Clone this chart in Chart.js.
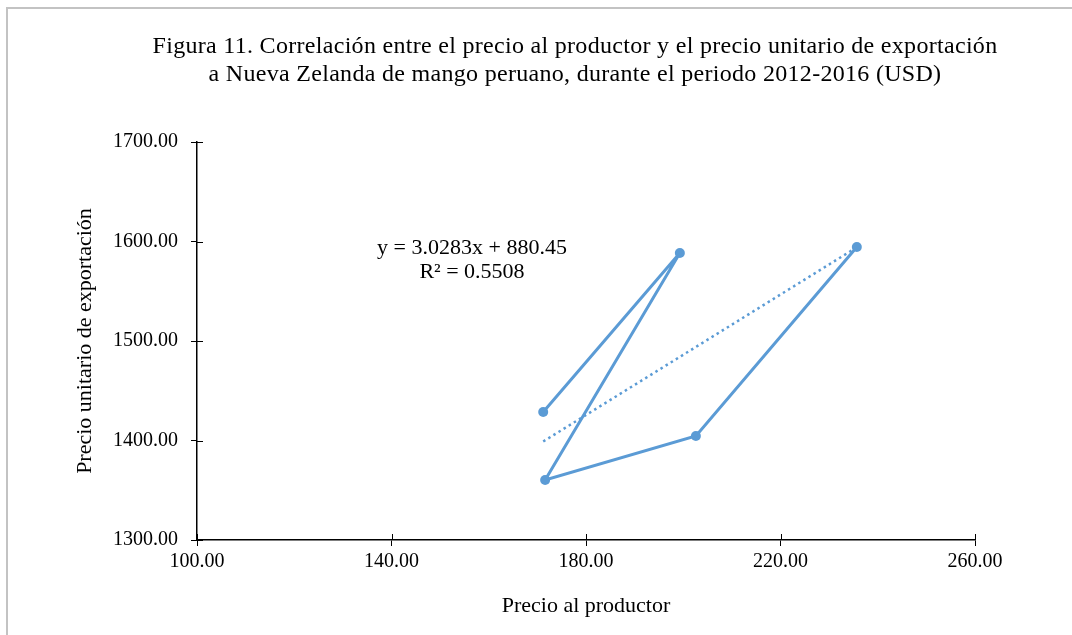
<!DOCTYPE html>
<html>
<head>
<meta charset="utf-8">
<script src="https://cdn.jsdelivr.net/npm/chart.js@4.4.0/dist/chart.umd.min.js"></script>
<style>
html,body{margin:0;padding:0;background:#fff;}
#wrap{position:relative;width:1072px;height:635px;}
</style>
</head>
<body>
<div id="wrap"><canvas id="c" width="1072" height="635"></canvas></div>
<script>
// Data
const productorPrices = [171.2, 199.3, 171.6, 202.6, 235.7];
const exportPrices    = [1428.6, 1588.4, 1360.3, 1404.5, 1594.5];
const trendX = [171.2, 235.7];
const trendY = [1399.0, 1594.2];
const xTicks = [100, 140, 180, 220, 260];
const yTicks = [1300, 1400, 1500, 1600, 1700];
const titleLines = [
  "Figura 11. Correlación entre el precio al productor y el precio unitario de exportación",
  "a Nueva Zelanda de mango peruano, durante el periodo 2012-2016 (USD)"
];
const equationLines = ["y = 3.0283x + 880.45", "R² = 0.5508"];
const xTitle = "Precio al productor";
const yTitle = "Precio unitario de exportación";

const SERIF = "'Liberation Serif', 'Times New Roman', serif";
const BLUE = "#5B9BD5";

const points = productorPrices.map((x, i) => ({x: x, y: exportPrices[i]}));
const trend = trendX.map((x, i) => ({x: x, y: trendY[i]}));

const decorPlugin = {
  id: 'decor',
  beforeDraw(chart) {
    const ctx = chart.ctx;
    ctx.save();
    ctx.fillStyle = '#fff';
    ctx.fillRect(0, 0, chart.width, chart.height);
    ctx.strokeStyle = '#c3c3c3';
    ctx.lineWidth = 2;
    ctx.beginPath();
    ctx.moveTo(7, 635);
    ctx.lineTo(7, 8);
    ctx.lineTo(1072, 8);
    ctx.stroke();
    ctx.restore();
  },
  afterDraw(chart) {
    const ctx = chart.ctx;
    const xs = chart.scales.x, ys = chart.scales.y;
    ctx.save();
    // inner halves of the crossing tick marks
    ctx.strokeStyle = '#000';
    ctx.lineWidth = 1;
    ctx.beginPath();
    xTicks.forEach(v => {
      const px = Math.round(xs.getPixelForValue(v)) + 0.5;
      ctx.moveTo(px, ys.bottom);
      ctx.lineTo(px, ys.bottom - 6);
    });
    yTicks.forEach(v => {
      const py = Math.round(ys.getPixelForValue(v)) + 0.5;
      ctx.moveTo(xs.left, py);
      ctx.lineTo(xs.left + 6, py);
    });
    ctx.stroke();
    // title
    ctx.fillStyle = '#000';
    ctx.textAlign = 'center';
    ctx.textBaseline = 'middle';
    ctx.font = "24px " + SERIF;
    if ('letterSpacing' in ctx) ctx.letterSpacing = '0.3px';
    ctx.fillText(titleLines[0], 575, 47);
    ctx.fillText(titleLines[1], 575, 75);
    if ('letterSpacing' in ctx) ctx.letterSpacing = '0px';
    // trendline equation
    ctx.font = "22px " + SERIF;
    ctx.fillText(equationLines[0], 472, 248);
    ctx.fillText(equationLines[1], 472, 272);
    ctx.restore();
  }
};

new Chart(document.getElementById('c'), {
  type: 'scatter',
  data: {
    datasets: [
      {
        label: 'Precio',
        data: points,
        showLine: true,
        borderColor: BLUE,
        backgroundColor: BLUE,
        borderWidth: 3,
        pointRadius: 5,
        pointHoverRadius: 5,
        pointBorderWidth: 0,
        tension: 0
      },
      {
        label: 'Tendencia',
        data: trend,
        showLine: true,
        borderColor: BLUE,
        borderWidth: 2.5,
        borderDash: [2.5, 3.5],
        pointRadius: 0,
        tension: 0
      }
    ]
  },
  plugins: [decorPlugin],
  options: {
    responsive: false,
    animation: false,
    events: [],
    layout: { padding: { left: 65, right: 97, top: 142, bottom: 0 } },
    plugins: { legend: { display: false }, tooltip: { enabled: false }, title: { display: false } },
    scales: {
      x: {
        type: 'linear',
        min: 100, max: 260,
        afterBuildTicks(scale) { scale.ticks = xTicks.map(v => ({value: v})); },
        afterFit(scale) { scale.height = 95; },
        ticks: {
          color: '#000',
          padding: 4,
          font: { family: SERIF, size: 20 },
          callback: v => Number(v).toFixed(2)
        },
        grid: { drawOnChartArea: false, drawTicks: true, tickLength: 6, color: '#000', lineWidth: 1 },
        border: { display: true, color: '#000', width: 1.5 },
        title: { display: true, text: xTitle, color: '#000', font: { family: SERIF, size: 22 }, padding: { top: 0, bottom: 16 } }
      },
      y: {
        type: 'linear',
        min: 1300, max: 1700,
        afterBuildTicks(scale) { scale.ticks = yTicks.map(v => ({value: v})); },
        afterFit(scale) { scale.width = 132; },
        ticks: {
          color: '#000',
          padding: 13,
          font: { family: SERIF, size: 20 },
          callback: v => Number(v).toFixed(2)
        },
        grid: { drawOnChartArea: false, drawTicks: true, tickLength: 6, color: '#000', lineWidth: 1 },
        border: { display: true, color: '#000', width: 1.5 },
        title: { display: true, text: yTitle, color: '#000', font: { family: SERIF, size: 22 }, padding: { top: 7, bottom: 0 } }
      }
    }
  }
});
</script>
</body>
</html>
